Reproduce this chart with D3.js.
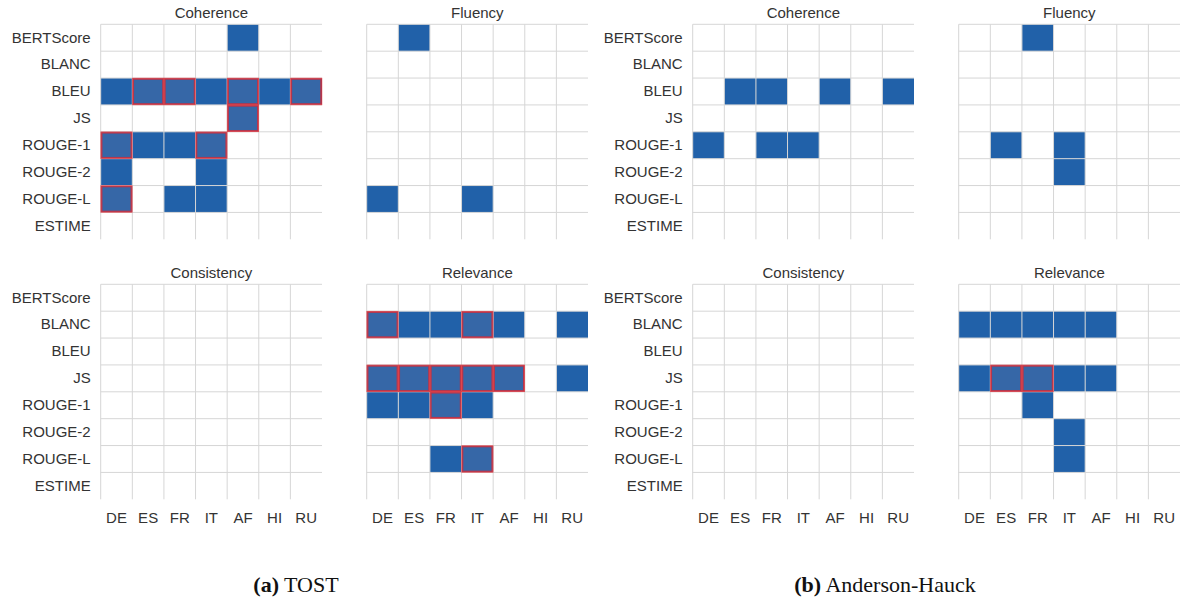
<!DOCTYPE html>
<html>
<head>
<meta charset="utf-8">
<script src="https://cdn.jsdelivr.net/npm/d3@7"></script>
<style>
  html, body { margin: 0; padding: 0; background: #fff; }
  svg { display: block; }
  .tick text { font-family: "Liberation Sans", Arial, sans-serif; font-size: 15px; fill: #333; }
</style>
</head>
<body>
<svg id="chart" width="1181" height="601"></svg>
<script>
// Metrics (rows) and languages (columns)
const metrics = ["BERTScore", "BLANC", "BLEU", "JS", "ROUGE-1", "ROUGE-2", "ROUGE-L", "ESTIME"];
const languages = ["DE", "ES", "FR", "IT", "AF", "HI", "RU"];
const dimensions = ["Coherence", "Fluency", "Consistency", "Relevance"];
const captions = [["(a)", " TOST"], ["(b)", " Anderson-Hauck"]];

// 0 = not significant, 1 = significant, 2 = significant & highlighted (red outline)
const tostCoherence = [
  [0,0,0,0,1,0,0],
  [0,0,0,0,0,0,0],
  [1,2,2,1,2,1,2],
  [0,0,0,0,2,0,0],
  [2,1,1,2,0,0,0],
  [1,0,0,1,0,0,0],
  [2,0,1,1,0,0,0],
  [0,0,0,0,0,0,0]
];
const tostFluency = [
  [0,1,0,0,0,0,0],
  [0,0,0,0,0,0,0],
  [0,0,0,0,0,0,0],
  [0,0,0,0,0,0,0],
  [0,0,0,0,0,0,0],
  [0,0,0,0,0,0,0],
  [1,0,0,1,0,0,0],
  [0,0,0,0,0,0,0]
];
const tostConsistency = [
  [0,0,0,0,0,0,0],
  [0,0,0,0,0,0,0],
  [0,0,0,0,0,0,0],
  [0,0,0,0,0,0,0],
  [0,0,0,0,0,0,0],
  [0,0,0,0,0,0,0],
  [0,0,0,0,0,0,0],
  [0,0,0,0,0,0,0]
];
const tostRelevance = [
  [0,0,0,0,0,0,0],
  [2,1,1,2,1,0,1],
  [0,0,0,0,0,0,0],
  [2,2,2,2,2,0,1],
  [1,1,2,1,0,0,0],
  [0,0,0,0,0,0,0],
  [0,0,1,2,0,0,0],
  [0,0,0,0,0,0,0]
];
const ahCoherence = [
  [0,0,0,0,0,0,0],
  [0,0,0,0,0,0,0],
  [0,1,1,0,1,0,1],
  [0,0,0,0,0,0,0],
  [1,0,1,1,0,0,0],
  [0,0,0,0,0,0,0],
  [0,0,0,0,0,0,0],
  [0,0,0,0,0,0,0]
];
const ahFluency = [
  [0,0,1,0,0,0,0],
  [0,0,0,0,0,0,0],
  [0,0,0,0,0,0,0],
  [0,0,0,0,0,0,0],
  [0,1,0,1,0,0,0],
  [0,0,0,1,0,0,0],
  [0,0,0,0,0,0,0],
  [0,0,0,0,0,0,0]
];
const ahConsistency = [
  [0,0,0,0,0,0,0],
  [0,0,0,0,0,0,0],
  [0,0,0,0,0,0,0],
  [0,0,0,0,0,0,0],
  [0,0,0,0,0,0,0],
  [0,0,0,0,0,0,0],
  [0,0,0,0,0,0,0],
  [0,0,0,0,0,0,0]
];
const ahRelevance = [
  [0,0,0,0,0,0,0],
  [1,1,1,1,1,0,0],
  [0,0,0,0,0,0,0],
  [1,2,2,1,1,0,0],
  [0,0,1,0,0,0,0],
  [0,0,0,1,0,0,0],
  [0,0,0,1,0,0,0],
  [0,0,0,0,0,0,0]
];

const groups = [
  [tostCoherence, tostFluency, tostConsistency, tostRelevance],
  [ahCoherence, ahFluency, ahConsistency, ahRelevance]
];

// Layout
const panelW = 221.3, panelH = 215;
const groupX = [100.7, 692.7];
const colGap = 266;       // offset of second column panel within group
const rowY = [24.3, 284.3];
const captionX = [296, 885];

const svg = d3.select("#chart");
const BLUE = "#2161a9", HILITE = "#3667a7", RED = "#e3262e", GRID = "#d6d6d6";

groups.forEach((panels, gi) => {
  panels.forEach((mat, pi) => {
    const col = pi % 2, row = Math.floor(pi / 2);
    const x0 = groupX[gi] + col * colGap;
    const y0 = rowY[row];
    const x = d3.scaleBand().domain(languages).range([x0, x0 + panelW]);
    const y = d3.scaleBand().domain(metrics).range([y0, y0 + panelH]);
    const g = svg.append("g");

    const cells = [];
    metrics.forEach((m, ri) => languages.forEach((l, ci) => {
      cells.push({m, l, v: mat[ri][ci]});
    }));

    g.selectAll("rect.cell").data(cells.filter(d => d.v > 0)).enter()
      .append("rect").attr("class", "cell")
      .attr("x", d => x(d.l)).attr("y", d => y(d.m))
      .attr("width", x.bandwidth()).attr("height", y.bandwidth())
      .attr("fill", d => d.v === 2 ? HILITE : BLUE);

    // grid lines: verticals at column left edges, horizontals at row top edges
    g.selectAll("line.v").data(languages).enter().append("line")
      .attr("x1", d => x(d)).attr("x2", d => x(d))
      .attr("y1", y0).attr("y2", y0 + panelH)
      .attr("stroke", GRID).attr("stroke-width", 1);
    g.selectAll("line.h").data(metrics).enter().append("line")
      .attr("y1", d => y(d)).attr("y2", d => y(d))
      .attr("x1", x0).attr("x2", x0 + panelW)
      .attr("stroke", GRID).attr("stroke-width", 1);

    g.selectAll("rect.hl").data(cells.filter(d => d.v === 2)).enter()
      .append("rect").attr("class", "hl")
      .attr("x", d => x(d.l) + 0.75).attr("y", d => y(d.m) + 0.75)
      .attr("width", x.bandwidth() - 1.5).attr("height", y.bandwidth() - 1.5)
      .attr("fill", "none").attr("stroke", RED).attr("stroke-opacity", 0.75)
      .attr("stroke-width", 2);

    // title
    g.append("text")
      .attr("x", x0 + panelW / 2).attr("y", y0 - 6)
      .attr("text-anchor", "middle")
      .style("font-family", '"Liberation Sans", Arial, sans-serif')
      .style("font-size", "15px").style("fill", "#333")
      .text(dimensions[pi]);

    if (col === 0) {
      const ya = g.append("g").attr("transform", `translate(${x0},0)`)
        .call(d3.axisLeft(y).tickSize(0).tickPadding(10));
      ya.select(".domain").remove();
    }
    if (row === 1) {
      const xa = g.append("g").attr("transform", `translate(0,${y0 + panelH})`)
        .call(d3.axisBottom(x).tickSize(0).tickPadding(13));
      xa.select(".domain").remove();
    }
  });

  const cap = svg.append("text")
    .attr("x", captionX[gi]).attr("y", 592)
    .attr("text-anchor", "middle")
    .style("font-family", '"Liberation Serif", "Times New Roman", serif')
    .style("font-size", "22px").style("fill", "#111");
  cap.append("tspan").style("font-weight", "bold").text(captions[gi][0]);
  cap.append("tspan").text(captions[gi][1]);
});
</script>
</body>
</html>
